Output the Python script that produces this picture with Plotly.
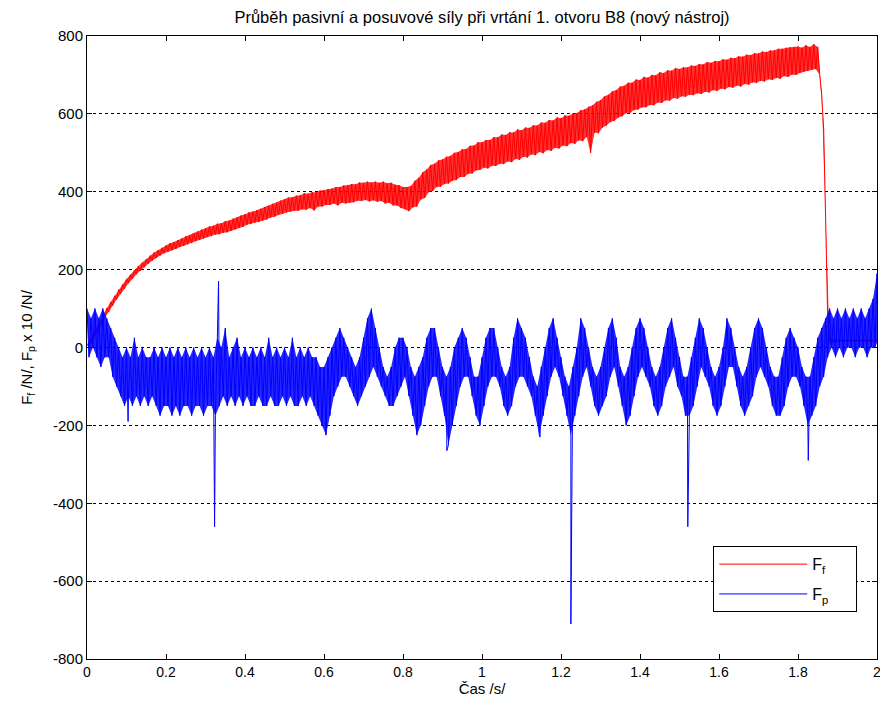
import numpy as np
import plotly.graph_objects as go

# sampling step of the envelope readings (s); hi read at t, lo read at t + step/2
t_step = 0.01

# F_f (feed force) upper / lower envelope, t = 0.00 .. 2.00
ff_hi = [8, 24, 44, 64, 85, 101, 117, 133, 149, 162,
         176, 187, 199, 209, 218, 227, 236, 244, 250, 256,
         262, 268, 271, 276, 280, 286, 289, 294, 298, 303,
         306, 311, 313, 318, 319, 324, 326, 331, 334, 339,
         342, 347, 349, 353, 356, 361, 364, 369, 372, 377,
         380, 385, 386, 390, 391, 396, 395, 399, 399, 403,
         404, 407, 408, 412, 412, 416, 417, 420, 419, 424,
         423, 426, 424, 426, 423, 426, 422, 423, 418, 417,
         412, 412, 415, 428, 436, 450, 457, 469, 472, 481,
         483, 490, 492, 500, 502, 509, 510, 518, 519, 527,
         527, 533, 533, 540, 540, 547, 546, 553, 552, 560,
         558, 565, 564, 571, 570, 578, 577, 584, 583, 591,
         589, 596, 595, 601, 602, 609, 611, 618, 622, 631,
         635, 645, 649, 658, 661, 670, 672, 680, 680, 688,
         687, 695, 693, 700, 699, 707, 705, 712, 711, 718,
         715, 720, 719, 724, 723, 728, 727, 733, 731, 736,
         735, 740, 739, 744, 743, 748, 747, 752, 751, 756,
         755, 760, 759, 763, 763, 767, 767, 770, 771, 772,
         773, 770, 776, 772, 779, 772, 650, 330, 12, 20,
         20, 20, 20, 20, 20, 20, 20, 20, 20, 20,
         20]
ff_lo = [2, 16, 36, 56, 76, 91, 107, 123, 138, 151,
         165, 176, 188, 197, 206, 215, 223, 230, 236, 242,
         246, 250, 253, 258, 261, 265, 268, 273, 276, 280,
         284, 286, 290, 291, 295, 296, 300, 303, 307, 310,
         315, 317, 321, 322, 326, 329, 334, 336, 341, 343,
         347, 349, 351, 351, 355, 354, 358, 352, 362, 362,
         366, 366, 370, 365, 372, 370, 372, 373, 377, 376,
         379, 375, 378, 374, 376, 370, 372, 365, 365, 358,
         355, 350, 360, 362, 380, 384, 399, 402, 412, 413,
         420, 421, 428, 430, 438, 438, 446, 447, 455, 456,
         462, 460, 467, 466, 472, 471, 478, 476, 484, 482,
         490, 488, 496, 494, 502, 499, 507, 505, 513, 511,
         519, 517, 525, 523, 532, 530, 541, 500, 552, 550,
         565, 570, 579, 582, 591, 594, 602, 603, 610, 611,
         617, 617, 623, 622, 629, 628, 635, 634, 641, 639,
         645, 644, 649, 648, 653, 651, 657, 655, 661, 659,
         665, 663, 669, 667, 673, 670, 677, 675, 681, 679,
         685, 683, 689, 687, 693, 690, 697, 695, 701, 700,
         705, 708, 710, 713, 715, 700, 560, 80, 10, 15,
         15, 15, 15, 15, 15, 15, 15, 15, 15, 15,
         15]

# F_p x 10 (passive force) upper / lower envelope
fp_hi = [100, 75, 100, 75, 100, 75, 50, 25, 0, -25,
         0, -25, 25, -25, 0, -25, -25, 0, -25, 0,
         -25, 0, -25, 0, -25, 0, -25, 0, -25, 0,
         -25, 0, -25, 25, 0, 50, -25, 0, 25, -25,
         0, -25, 0, -25, 0, -25, 25, -25, 0, -25,
         0, -25, 25, -25, 0, -25, 0, -25, -25, -50,
         -50, -25, 0, 25, 50, 25, 0, -25, -50, -25,
         25, 75, 100, 50, 0, -50, -75, -50, 0, 25,
         25, 0, -50, -75, -50, -25, 25, 50, 50, 0,
         -50, -75, -50, 0, 25, 50, 25, -25, -75, -75,
         -25, 25, 50, 50, 0, -50, -75, -50, 25, 75,
         50, 25, -25, -75, -100, -50, 0, 50, 75, 25,
         -25, -75, -100, -50, 0, 75, 50, 0, -50, -75,
         -50, 0, 50, 75, 25, -50, -75, -50, 0, 50,
         75, 50, 0, -50, -75, -50, 0, 50, 75, 25,
         -25, -75, -75, -25, 25, 75, 50, 0, -50, -75,
         -50, 0, 75, 50, 0, -50, -75, -50, 0, 50,
         75, 50, 0, -50, -75, -75, -25, 25, 50, 25,
         0, -50, -75, -75, -25, 25, 50, 75, 100, 75,
         100, 75, 100, 75, 100, 75, 100, 75, 100, 125,
         190]
fp_lo = [-25, 0, -25, -50, -25, -25, -75, -100, -125, -150,
         -125, -150, -125, -150, -125, -150, -125, -150, -175, -150,
         -150, -175, -150, -175, -150, -150, -175, -150, -150, -175,
         -150, -150, -175, -150, -125, -150, -125, -150, -125, -150,
         -125, -150, -150, -125, -150, -150, -125, -150, -150, -125,
         -150, -125, -150, -150, -125, -150, -125, -150, -175, -200,
         -225, -175, -125, -100, -75, -75, -100, -125, -150, -125,
         -100, -75, -50, -75, -100, -125, -150, -150, -125, -100,
         -75, -125, -175, -225, -200, -150, -100, -75, -75, -125,
         -175, -250, -200, -150, -100, -75, -75, -125, -175, -200,
         -150, -100, -75, -75, -100, -150, -175, -150, -100, -75,
         -75, -100, -125, -175, -225, -175, -125, -75, -50, -75,
         -125, -175, -225, -175, -125, -75, -50, -100, -150, -175,
         -150, -125, -75, -50, -100, -150, -200, -175, -125, -75,
         -50, -75, -100, -150, -175, -150, -100, -75, -50, -100,
         -125, -175, -175, -150, -100, -50, -75, -100, -150, -175,
         -150, -100, -50, -50, -100, -150, -175, -150, -125, -75,
         -50, -75, -100, -150, -175, -175, -150, -100, -75, -75,
         -100, -150, -200, -175, -150, -100, -75, -25, 0, -25,
         0, -25, 0, 0, -25, 0, 0, -25, 0, 0,
         25]

# isolated spikes of F_p
fp_spike_t = [0.104, 0.323, 0.333, 0.911, 1.147, 1.225, 1.521, 1.826]
fp_spike_v = [-190, -460, 170, -265, -230, -710, -460, -290]

x_ticks = [0, 0.2, 0.4, 0.6, 0.8, 1.0, 1.2, 1.4, 1.6, 1.8, 2.0]
x_ticktext = ["0", "0.2", "0.4", "0.6", "0.8", "1", "1.2", "1.4", "1.6", "1.8", "2"]
y_ticks = [-800, -600, -400, -200, 0, 200, 400, 600, 800]
y_ticktext = ["-800", "-600", "-400", "-200", "0", "200", "400", "600", "800"]


def band_series(hi, lo, extra_t=(), extra_v=()):
    pts = []
    for i, (h, l) in enumerate(zip(hi, lo)):
        t0 = round(i * t_step, 4)
        pts.append((t0, h))
        pts.append((round(t0 + t_step / 2, 4), l))
    pts += list(zip(extra_t, extra_v))
    pts.sort(key=lambda p: p[0])
    return [p[0] for p in pts], [p[1] for p in pts]


def band_polygon(hi, lo):
    th = [round(i * t_step, 4) for i in range(len(hi))]
    tl = [round(i * t_step + t_step / 2, 4) for i in range(len(lo))]
    return th + tl[::-1], list(hi) + list(lo)[::-1]


ff_x, ff_y = band_series(ff_hi, ff_lo)
fp_x, fp_y = band_series(fp_hi, fp_lo, fp_spike_t, fp_spike_v)
ffp_x, ffp_y = band_polygon(ff_hi, ff_lo)
fpp_x, fpp_y = band_polygon(fp_hi, fp_lo)

font_main = "Liberation Sans, Arial, sans-serif"

fig = go.Figure()
fig.add_trace(go.Scatter(x=ffp_x, y=ffp_y, mode="lines", fill="toself",
                         fillcolor="rgba(255,0,0,0.8)", line=dict(width=0),
                         showlegend=False, hoverinfo="skip", legendgroup="a"))
fig.add_trace(go.Scatter(x=ff_x, y=ff_y, mode="lines", name="F<sub>f</sub>&nbsp;&nbsp;&nbsp;&nbsp;&nbsp;",
                         line=dict(color="#ff0000", width=1, simplify=False),
                         legendgroup="a"))
fig.add_trace(go.Scatter(x=fpp_x, y=fpp_y, mode="lines", fill="toself",
                         fillcolor="rgba(0,0,255,0.85)", line=dict(width=0),
                         showlegend=False, hoverinfo="skip", legendgroup="b"))
fig.add_trace(go.Scatter(x=fp_x, y=fp_y, mode="lines", name="F<sub>p</sub>&nbsp;&nbsp;&nbsp;&nbsp;&nbsp;",
                         line=dict(color="#0000ff", width=1, simplify=False),
                         legendgroup="b"))

fig.update_layout(
    width=880, height=707,
    margin=dict(l=87, r=3, t=36, b=48, autoexpand=False),
    plot_bgcolor="white", paper_bgcolor="white",
    font=dict(family=font_main, size=13, color="black"),
    title=dict(text="Průběh pasivní a posuvové síly při vrtání 1. otvoru B8 (nový nástroj)",
               x=0.5, xref="paper", xanchor="center",
               y=0.976, yref="container", yanchor="middle",
               font=dict(family=font_main, size=16.5, color="black")),
    showlegend=True,
    legend=dict(x=0.975, xanchor="right", y=0.181, yanchor="top",
                bgcolor="white", bordercolor="black", borderwidth=1,
                font=dict(family=font_main, size=16, color="black"),
                itemwidth=88, tracegroupgap=6, traceorder="grouped"),
)
fig.update_xaxes(range=[0, 2], tickvals=x_ticks, ticktext=x_ticktext,
                 ticks="inside", ticklen=5, tickcolor="black",
                 showline=True, linecolor="black", linewidth=1, mirror="ticks",
                 showgrid=False, zeroline=False, automargin=False,
                 ticklabeloverflow="allow",
                 tickfont=dict(family=font_main, size=14, color="black"),
                 title=dict(text="Čas /s/", standoff=4,
                            font=dict(family=font_main, size=15, color="black")))
fig.update_yaxes(range=[-800, 800], tickvals=y_ticks, ticktext=y_ticktext,
                 ticks="inside", ticklen=5, tickcolor="black",
                 showline=True, linecolor="black", linewidth=1, mirror="ticks",
                 showgrid=True, gridcolor="black", gridwidth=1, griddash="dot",
                 zeroline=False, automargin=False,
                 tickfont=dict(family=font_main, size=15, color="black"),
                 title=dict(text="F<sub>f</sub> /N/, F<sub>p</sub> x 10 /N/", standoff=16,
                            font=dict(family=font_main, size=15, color="black")))

fig.write_html("out.html", config={"displayModeBar": False},
               post_script="document.body.style.margin='0';")
